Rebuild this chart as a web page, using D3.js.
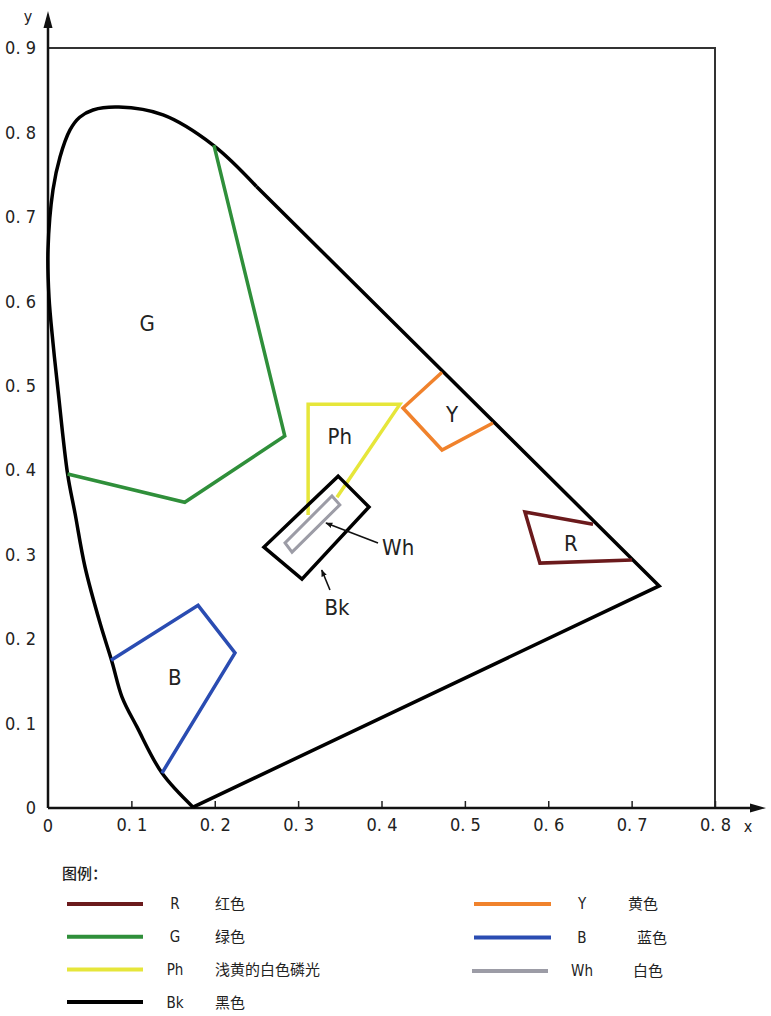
<!DOCTYPE html>
<html>
<head>
<meta charset="utf-8">
<script src="https://d3js.org/d3.v7.min.js"></script>
<style>
  body { margin: 0; background: #fff; }
  text { font-family: "Liberation Sans Narrow", "DejaVu Sans Condensed", "Noto Sans CJK SC", sans-serif; fill: #222; }
  .cjk { font-family: "Noto Sans CJK SC", sans-serif; }
</style>
</head>
<body>
<div id="chart"></div>
<script>
// ---- data ----
var xTicks = [0, 0.1, 0.2, 0.3, 0.4, 0.5, 0.6, 0.7, 0.8];
var xTickLabels = ["0", "0. 1", "0. 2", "0. 3", "0. 4", "0. 5", "0. 6", "0. 7", "0. 8"];
var yTicks = [0, 0.1, 0.2, 0.3, 0.4, 0.5, 0.6, 0.7, 0.8, 0.9];
var yTickLabels = ["0", "0. 1", "0. 2", "0. 3", "0. 4", "0. 5", "0. 6", "0. 7", "0. 8", "0. 9"];

// spectrum locus, curved part (from the bottom, up and round the top)
var locusCurve = [
  [0.174, 0.001], [0.1367, 0.0414], [0.1067, 0.096], [0.0888, 0.1314],
  [0.0768, 0.173], [0.0624, 0.219], [0.0444, 0.2854], [0.0324, 0.349],
  [0.0235, 0.3955], [0.012, 0.495], [0.006, 0.5507],
  [0.0012, 0.605], [0.0, 0.661], [0.006, 0.732], [0.0144, 0.771],
  [0.0264, 0.803], [0.038, 0.818], [0.054, 0.8266], [0.085, 0.830], [0.138, 0.8207],
  [0.198, 0.785], [0.25, 0.736]
];
// straight part: long edge and purple line back to start
var locusStraight = [[0.25, 0.736], [0.733, 0.263], [0.174, 0.001]];

var regionG  = [[0.199, 0.785], [0.284, 0.4405], [0.164, 0.362], [0.0235, 0.3955]];
var regionY  = [[0.4726, 0.516], [0.4258, 0.4737], [0.4726, 0.424], [0.5337, 0.456]];
var regionPh = [[0.312, 0.347], [0.312, 0.478], [0.422, 0.478], [0.3466, 0.368]];
var regionBk = [[0.348, 0.393], [0.385, 0.3565], [0.3046, 0.271], [0.259, 0.309]];
var regionWh = [[0.3406, 0.3695], [0.350, 0.359], [0.2927, 0.303], [0.2843, 0.314]];
var regionR  = [[0.6537, 0.336], [0.572, 0.3505], [0.590, 0.290], [0.7004, 0.2937]];
var regionB  = [[0.0756, 0.175], [0.180, 0.240], [0.2243, 0.1836], [0.1367, 0.0414]];

var regionLabels = ["G", "Ph", "Y", "R", "B", "Wh", "Bk"];
var regionLabelPos = [[0.119, 0.574], [0.35, 0.44], [0.4846, 0.4666], [0.627, 0.314],
                      [0.152, 0.155], [0.42, 0.309], [0.3466, 0.238]];
var pointerWh = [[0.3958, 0.3138], [0.3334, 0.3375]];
var pointerBk = [[0.3382, 0.2582], [0.3283, 0.2818]];

var legendKeys  = ["R", "G", "Ph", "Bk", "Y", "B", "Wh"];
var legendNames = ["红色", "绿色", "浅黄的白色磷光", "黑色", "黄色", "蓝色", "白色"];
var legendColors = ["#6b1a1c", "#2f8f3a", "#e6e63a", "#000000", "#f0822c", "#2a4cb2", "#9c9ca6"];

// ---- drawing ----
var width = 771, height = 1016;
var svg = d3.select("#chart").append("svg")
    .attr("width", width)
    .attr("height", height);

var x = d3.scaleLinear().domain([0, 0.8]).range([48, 715]);
var y = d3.scaleLinear().domain([0, 0.9]).range([808, 48]);

var line = d3.line().x(function(d) { return x(d[0]); }).y(function(d) { return y(d[1]); });

var defs = svg.append("defs");
defs.append("marker")
    .attr("id", "tip")
    .attr("viewBox", "0 0 10 10")
    .attr("refX", 9).attr("refY", 5)
    .attr("markerWidth", 7).attr("markerHeight", 7)
    .attr("markerUnits", "userSpaceOnUse")
    .attr("orient", "auto")
  .append("path")
    .attr("d", "M0,1 L10,5 L0,9 Z")
    .attr("fill", "#111");

// frame (top and right)
svg.append("path")
    .attr("d", line([[0, 0.9], [0.8, 0.9], [0.8, 0]]))
    .attr("fill", "none")
    .attr("stroke", "#333")
    .attr("stroke-width", 2);

// x axis
var xAxis = svg.append("g")
    .attr("transform", "translate(0," + y(0) + ")")
    .call(d3.axisBottom(x).tickValues(xTicks.slice(1))
        .tickSizeInner(-7).tickSizeOuter(0).tickPadding(10)
        .tickFormat(function(d, i) { return xTickLabels[i + 1]; }));
xAxis.select(".domain").remove();
xAxis.selectAll(".tick line").attr("stroke", "#222").attr("stroke-width", 1.5);
xAxis.selectAll(".tick text").attr("font-size", 18).attr("font-family", null).attr("fill", "#222");

svg.append("text")
    .attr("x", x(0)).attr("y", y(0) + 24)
    .attr("text-anchor", "middle")
    .attr("font-size", 18)
    .text(xTickLabels[0]);

// y axis labels
var yAxis = svg.append("g")
    .attr("transform", "translate(" + x(0) + ",0)")
    .call(d3.axisLeft(y).tickValues(yTicks)
        .tickSize(0).tickPadding(12)
        .tickFormat(function(d, i) { return yTickLabels[i]; }));
yAxis.select(".domain").remove();
yAxis.selectAll(".tick text").attr("font-size", 18).attr("font-family", null).attr("fill", "#222");

// axis lines with arrows
svg.append("line")
    .attr("x1", x(0)).attr("y1", y(0)).attr("x2", 752).attr("y2", y(0))
    .attr("stroke", "#111").attr("stroke-width", 2.5);
svg.append("path")
    .attr("d", "M750," + (y(0) - 4.5) + " L766," + y(0) + " L750," + (y(0) + 4.5) + " Z")
    .attr("fill", "#111");
svg.append("line")
    .attr("x1", x(0)).attr("y1", y(0)).attr("x2", x(0)).attr("y2", 26)
    .attr("stroke", "#111").attr("stroke-width", 2.5);
svg.append("path")
    .attr("d", "M" + (x(0) - 4.5) + ",28 L" + x(0) + ",11 L" + (x(0) + 4.5) + ",28 Z")
    .attr("fill", "#111");
svg.append("text").attr("x", 28).attr("y", 22).attr("text-anchor", "middle")
    .attr("font-size", 16).text("y");
svg.append("text").attr("x", 748).attr("y", 832).attr("text-anchor", "middle")
    .attr("font-size", 16).text("x");

// spectrum locus
var curve = d3.line().curve(d3.curveCatmullRom.alpha(0.5))
    .x(function(d) { return x(d[0]); }).y(function(d) { return y(d[1]); });
svg.append("path")
    .attr("d", curve(locusCurve))
    .attr("fill", "none").attr("stroke", "#000").attr("stroke-width", 3.5);
svg.append("path")
    .attr("d", line(locusStraight))
    .attr("fill", "none").attr("stroke", "#000").attr("stroke-width", 3.5)
    .attr("stroke-linejoin", "miter");

// colour regions
function region(pts, color, closed, w) {
  svg.append("path")
      .attr("d", line(pts) + (closed ? "Z" : ""))
      .attr("fill", "none")
      .attr("stroke", color)
      .attr("stroke-width", w || 3.5)
      .attr("stroke-linejoin", "miter");
}
region(regionG, legendColors[1], false);
region(regionY, legendColors[4], false);
region(regionR, legendColors[0], false);
region(regionB, legendColors[5], false);
region(regionPh, legendColors[2], false);
region(regionBk, legendColors[3], true, 3.5);
region(regionWh, legendColors[6], true, 3);

// pointers
[pointerWh, pointerBk].forEach(function(p) {
  svg.append("path")
      .attr("d", line(p))
      .attr("stroke", "#111").attr("stroke-width", 1.6)
      .attr("fill", "none")
      .attr("marker-end", "url(#tip)");
});

// region labels
svg.append("g").selectAll("text")
  .data(regionLabels)
  .enter().append("text")
    .attr("x", function(d, i) { return x(regionLabelPos[i][0]); })
    .attr("y", function(d, i) { return y(regionLabelPos[i][1]); })
    .attr("dy", "0.36em")
    .attr("text-anchor", "middle")
    .attr("font-size", 22)
    .text(function(d) { return d; });

// legend
svg.append("text")
    .attr("class", "cjk")
    .attr("x", 62).attr("y", 879)
    .attr("font-size", 15).attr("font-weight", 500)
    .text("图例：");

var legendCol = [
  { lineX: [67, 143], keyX: 175, nameX: [215, 215, 215, 215], y0: 904, dy: 32.7 },
  { lineX: [474, 551], keyX: 582, nameX: [628, 637, 633], y0: 904, dy: 33.5 }
];
legendKeys.forEach(function(k, i) {
  var c = i < 4 ? legendCol[0] : legendCol[1];
  var j = i < 4 ? i : i - 4;
  var ry = c.y0 + j * c.dy;
  var lx = k === "Wh" ? [c.lineX[0] - 2, c.lineX[1] - 3] : c.lineX;
  svg.append("line")
      .attr("x1", lx[0]).attr("x2", lx[1])
      .attr("y1", ry).attr("y2", ry)
      .attr("stroke", legendColors[i]).attr("stroke-width", 4);
  svg.append("text")
      .attr("x", c.keyX).attr("y", ry).attr("dy", "0.36em")
      .attr("text-anchor", "middle")
      .attr("font-size", 15)
      .text(k);
  svg.append("text")
      .attr("class", "cjk")
      .attr("x", c.nameX[j]).attr("y", ry).attr("dy", "0.36em")
      .attr("font-size", 15)
      .text(legendNames[i]);
});
</script>
</body>
</html>
